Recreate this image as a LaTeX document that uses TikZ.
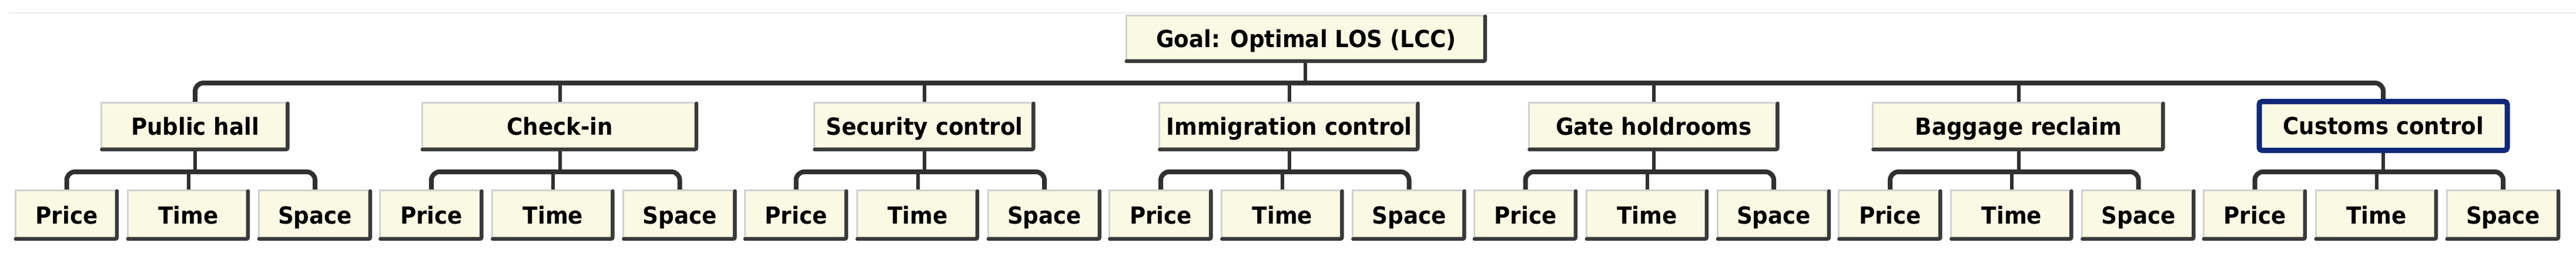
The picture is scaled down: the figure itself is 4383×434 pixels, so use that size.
\documentclass[tikz,border=0pt]{standalone}
\usepackage{fontspec}
\setmainfont{DejaVu Sans}[FakeStretch=0.93]
\definecolor{boxfill}{RGB}{250,250,228}
\definecolor{edgedark}{RGB}{58,58,58}
\definecolor{conncol}{RGB}{48,48,48}
\definecolor{custblue}{RGB}{16,40,120}
\pgfdeclarelayer{background}
\pgfsetlayers{background,main}
\tikzset{
  tb/.style={fill=boxfill, draw=none, inner sep=0pt, text=black,
    font=\fontsize{40pt}{48pt}\selectfont\bfseries, text height=29.2pt, text depth=0pt},
  lightedge/.style={draw=black!18, line width=3pt, line cap=round},
  darkedge/.style={draw=edgedark, line width=6.5pt, line cap=round, rounded corners=3pt},
  conn/.style={draw=conncol, line width=8pt, rounded corners=14pt},
  stem/.style={draw=conncol, line width=6pt},
  custbox/.style={tb, draw=custblue, line width=9pt, rounded corners=5pt},
}
% name, x1, x2, y1, y2, text
\newcommand\tbox[6]{%
  \node[tb, minimum width={#3-#2}, minimum height={#5-#4}] (#1) at ({(#2+#3)/2},{(#4+#5)/2}) {#6};
  \draw[lightedge] ([xshift=1.5pt,yshift=7pt]#1.south west) -- ([xshift=1.5pt,yshift=-1.5pt]#1.north west) -- ([xshift=-7pt,yshift=-1.5pt]#1.north east);
  \draw[darkedge] ([xshift=2pt,yshift=3.25pt]#1.south west) -- ([xshift=-3.25pt,yshift=3.25pt]#1.south east) -- ([xshift=-3.25pt,yshift=-3pt]#1.north east);
}
\begin{document}
\begin{tikzpicture}[x=1pt,y=-1pt]
\useasboundingbox (0,0) rectangle (4383,434);
\begin{pgfonlayer}{background}
\fill[white] (0,0) rectangle (4383,434);
\end{pgfonlayer}
\draw[black!8, line width=1.5pt] (15,22) -- (4383,22);

% goal
\tbox{goal}{1915}{2530}{25}{107}{Goal: Optimal LOS (LCC)}

% level 2 and leaves (groups 0..5)
\foreach \g/\lab/\w in {0/{Public hall}/321,1/{Check-in}/471,2/{Security control}/377,3/{Immigration control}/444,4/{Gate holdrooms}/427,5/{Baggage reclaim}/498}{
  \pgfmathsetmacro\s{25+620.5*\g}
  \pgfmathsetmacro\ma{\s+307-\w/2}
  \pgfmathsetmacro\mb{\s+307+\w/2}
  \pgfmathsetmacro\pa{\s}\pgfmathsetmacro\pb{\s+177}
  \pgfmathsetmacro\ta{\s+191}\pgfmathsetmacro\tbb{\s+400}
  \pgfmathsetmacro\qa{\s+414}\pgfmathsetmacro\qb{\s+608}
  \tbox{m\g}{\ma}{\mb}{173}{257}{\lab}
  \tbox{p\g}{\pa}{\pb}{322}{409}{Price}
  \tbox{t\g}{\ta}{\tbb}{322}{409}{Time}
  \tbox{q\g}{\qa}{\qb}{322}{409}{Space}
}

% customs group (g=6)
\pgfmathsetmacro\s{25+620.5*6}
\node[custbox, minimum width=422pt, minimum height=83pt] (m6) at (\s+307,214) {Customs control};
\pgfmathsetmacro\pa{\s}\pgfmathsetmacro\pb{\s+177}
\pgfmathsetmacro\ta{\s+191}\pgfmathsetmacro\tbb{\s+400}
\pgfmathsetmacro\qa{\s+414}\pgfmathsetmacro\qb{\s+608}
\tbox{p6}{\pa}{\pb}{322}{409}{Price}
\tbox{t6}{\ta}{\tbb}{322}{409}{Time}
\tbox{q6}{\qa}{\qb}{322}{409}{Space}

\begin{pgfonlayer}{background}
% sub-trees
\foreach \g in {0,...,6}{
  \draw[stem] (m\g.south) -- (m\g.south |- 0,292);
  \draw[stem] (t\g.north) -- (t\g.north |- 0,292);
  \draw[conn] (p\g.north) |- (q\g.north |- 0,292) -- (q\g.north);
}
% top bus
\draw[conn] (m0.north) |- (m6.north |- 0,141) -- (m6.north);
\foreach \k in {1,...,5}{
  \draw[stem] (m\k.north) -- (m\k.north |- 0,141);
}
\draw[stem] ([xshift=-2pt]goal.south) -- ([xshift=-2pt]goal.south |- 0,141);
\end{pgfonlayer}
\end{tikzpicture}
\end{document}
